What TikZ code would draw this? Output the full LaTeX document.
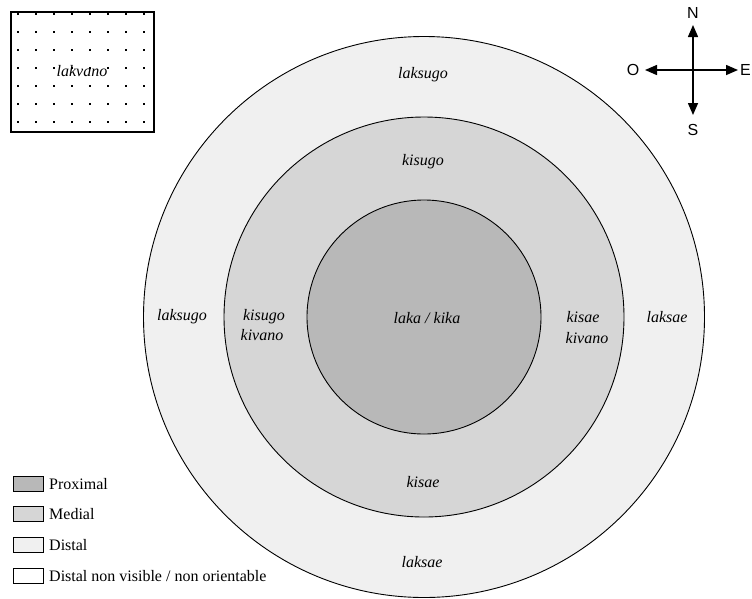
\documentclass[tikz,border=0pt]{standalone}
\usepackage{fontspec}
\setmainfont{Liberation Serif}
\newfontfamily\compassfont{Liberation Sans}
\usetikzlibrary{arrows.meta}
\definecolor{proxgray}{HTML}{B8B8B8}
\definecolor{medgray}{HTML}{D6D6D6}
\definecolor{distgray}{HTML}{F0F0F0}
\begin{document}
\begin{tikzpicture}[x=1pt,y=-1pt,
  lbl/.style={font=\fontsize{16}{19}\selectfont\itshape, inner sep=0pt},
  legtext/.style={font=\fontsize{16}{19}\selectfont, inner sep=0pt, anchor=base west},
  ring/.style={draw=black, line width=0.9pt},
  legbox/.style={draw=black, line width=1.2pt, minimum width=30pt, minimum height=15pt, inner sep=0pt, anchor=north west},
  comparrow/.style={line width=1.5pt, -{Triangle[length=12pt,width=10pt]}},
  compasslbl/.style={font=\compassfont\fontsize{16}{19}\selectfont, inner sep=0pt}]
\useasboundingbox (0,0) rectangle (752,598);

% concentric circles
\filldraw[ring, fill=distgray] (424,317) circle[radius=280.5];
\filldraw[ring, fill=medgray] (424,317) circle[radius=200];
\filldraw[ring, fill=proxgray] (424,317) circle[radius=117];

% circle labels
\node[lbl] (lsN) at (423,75) {laksugo};
\node[lbl] (ksN) at (423,162) {kisugo};
\node[lbl] (lk) at (427,318) {laka / kika};
\node[lbl] (lsW) at (182,317) {laksugo};
\node[lbl] (ksW) at (264,317) {kisugo};
\node[lbl] (kvW) at (262,335) {kivano};
\node[lbl] (kaE) at (583,317) {kisae};
\node[lbl] (kvE) at (587,338) {kivano};
\node[lbl] (laE) at (667,317) {laksae};
\node[lbl] (kaS) at (423,482) {kisae};
\node[lbl] (laS) at (422,562) {laksae};

% lakvano box
\draw[draw=black, line width=1.2pt] (11,12) rectangle (154,132);
\foreach \xx in {18,36,...,144}
  \foreach \yy in {14,32,50,68,86,104,122}
    \fill (\xx-0.8,\yy-0.8) rectangle +(1.6,1.6);
\node[lbl] (lakvano) at (82,71) {lakvano};

% compass
\coordinate (cc) at (693,70);
\coordinate (cn) at (693,25);
\coordinate (cs) at (693,115);
\coordinate (cw) at (645,70);
\coordinate (ce) at (738,70);
\draw[comparrow] (cc) -- (cn);
\draw[comparrow] (cc) -- (cs);
\draw[comparrow] (cc) -- (cw);
\draw[comparrow] (cc) -- (ce);
\node[compasslbl] (lN) at (693,13) {N};
\node[compasslbl] (lS) at (693,130) {S};
\node[compasslbl] (lO) at (633,70) {O};
\node[compasslbl] (lE) at (745.5,70) {E};

% legend
\node[legbox, fill=proxgray] (bp) at (13,475.5) {};
\node[legbox, fill=medgray] (bm) at (13,506) {};
\node[legbox, fill=distgray] (bd) at (13,537) {};
\node[legbox, fill=white] (bn) at (13,567.5) {};
\node[legtext] (tp) at (49,489) {Proximal};
\node[legtext] (tm) at (49,519.5) {Medial};
\node[legtext] (td) at (49,550.5) {Distal};
\node[legtext] (tn) at (49,581) {Distal non visible / non orientable};
\end{tikzpicture}
\end{document}
